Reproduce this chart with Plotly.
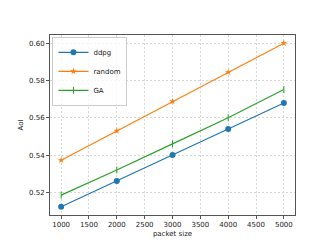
import plotly.graph_objects as go

packet_size = [1000, 2000, 3000, 4000, 5000]
ddpg = [0.5122, 0.5260, 0.5400, 0.5540, 0.5680]
random_vals = [0.5372, 0.5530, 0.5688, 0.5845, 0.6001]
ga = [0.5185, 0.5320, 0.5460, 0.5600, 0.5752]

fig = go.Figure()
fig.add_trace(go.Scatter(x=packet_size, y=ddpg, name="ddpg", mode="lines+markers",
                         line=dict(color="#1f77b4", width=1.2),
                         marker=dict(symbol="circle", size=6, color="#1f77b4")))
fig.add_trace(go.Scatter(x=packet_size, y=random_vals, name="random", mode="lines+markers",
                         line=dict(color="#ff7f0e", width=1.2),
                         marker=dict(symbol="star", size=5, color="#ff7f0e")))
fig.add_trace(go.Scatter(x=packet_size, y=ga, name="GA", mode="lines+markers",
                         line=dict(color="#2ca02c", width=1.2),
                         marker=dict(symbol="line-ns-open", size=5, color="#2ca02c",
                                     line=dict(color="#2ca02c", width=1))))

axis_common = dict(showline=True, linecolor="#555555", linewidth=1, mirror=True,
                   ticks="outside", ticklen=3, tickcolor="#555555",
                   showgrid=True, gridcolor="#d6d6d6", griddash="2px,2px", gridwidth=0.6,
                   zeroline=False, tickfont=dict(size=7, color="#222222"))

fig.update_layout(
    width=320, height=240,
    margin=dict(l=40, r=33, t=27, b=27),
    paper_bgcolor="white", plot_bgcolor="white",
    font=dict(family="DejaVu Sans", size=7, color="#222222"),
    xaxis=dict(range=[800, 5200], tickvals=[1000, 1500, 2000, 2500, 3000, 3500, 4000, 4500, 5000],
               title=dict(text="packet size", font=dict(size=7), standoff=2), **axis_common),
    yaxis=dict(range=[0.5078, 0.6045], tickvals=[0.52, 0.54, 0.56, 0.58, 0.60], tickformat=".2f",
               title=dict(text="AoI", font=dict(size=7), standoff=4), **axis_common),
    legend=dict(x=0.01, y=0.99, xanchor="left", yanchor="top",
                bordercolor="#cccccc", borderwidth=1, bgcolor="rgba(255,255,255,0.8)",
                font=dict(size=7), tracegroupgap=0, itemwidth=30,
                entrywidthmode="pixels"),
    showlegend=True,
)

fig.write_html("out.html")
